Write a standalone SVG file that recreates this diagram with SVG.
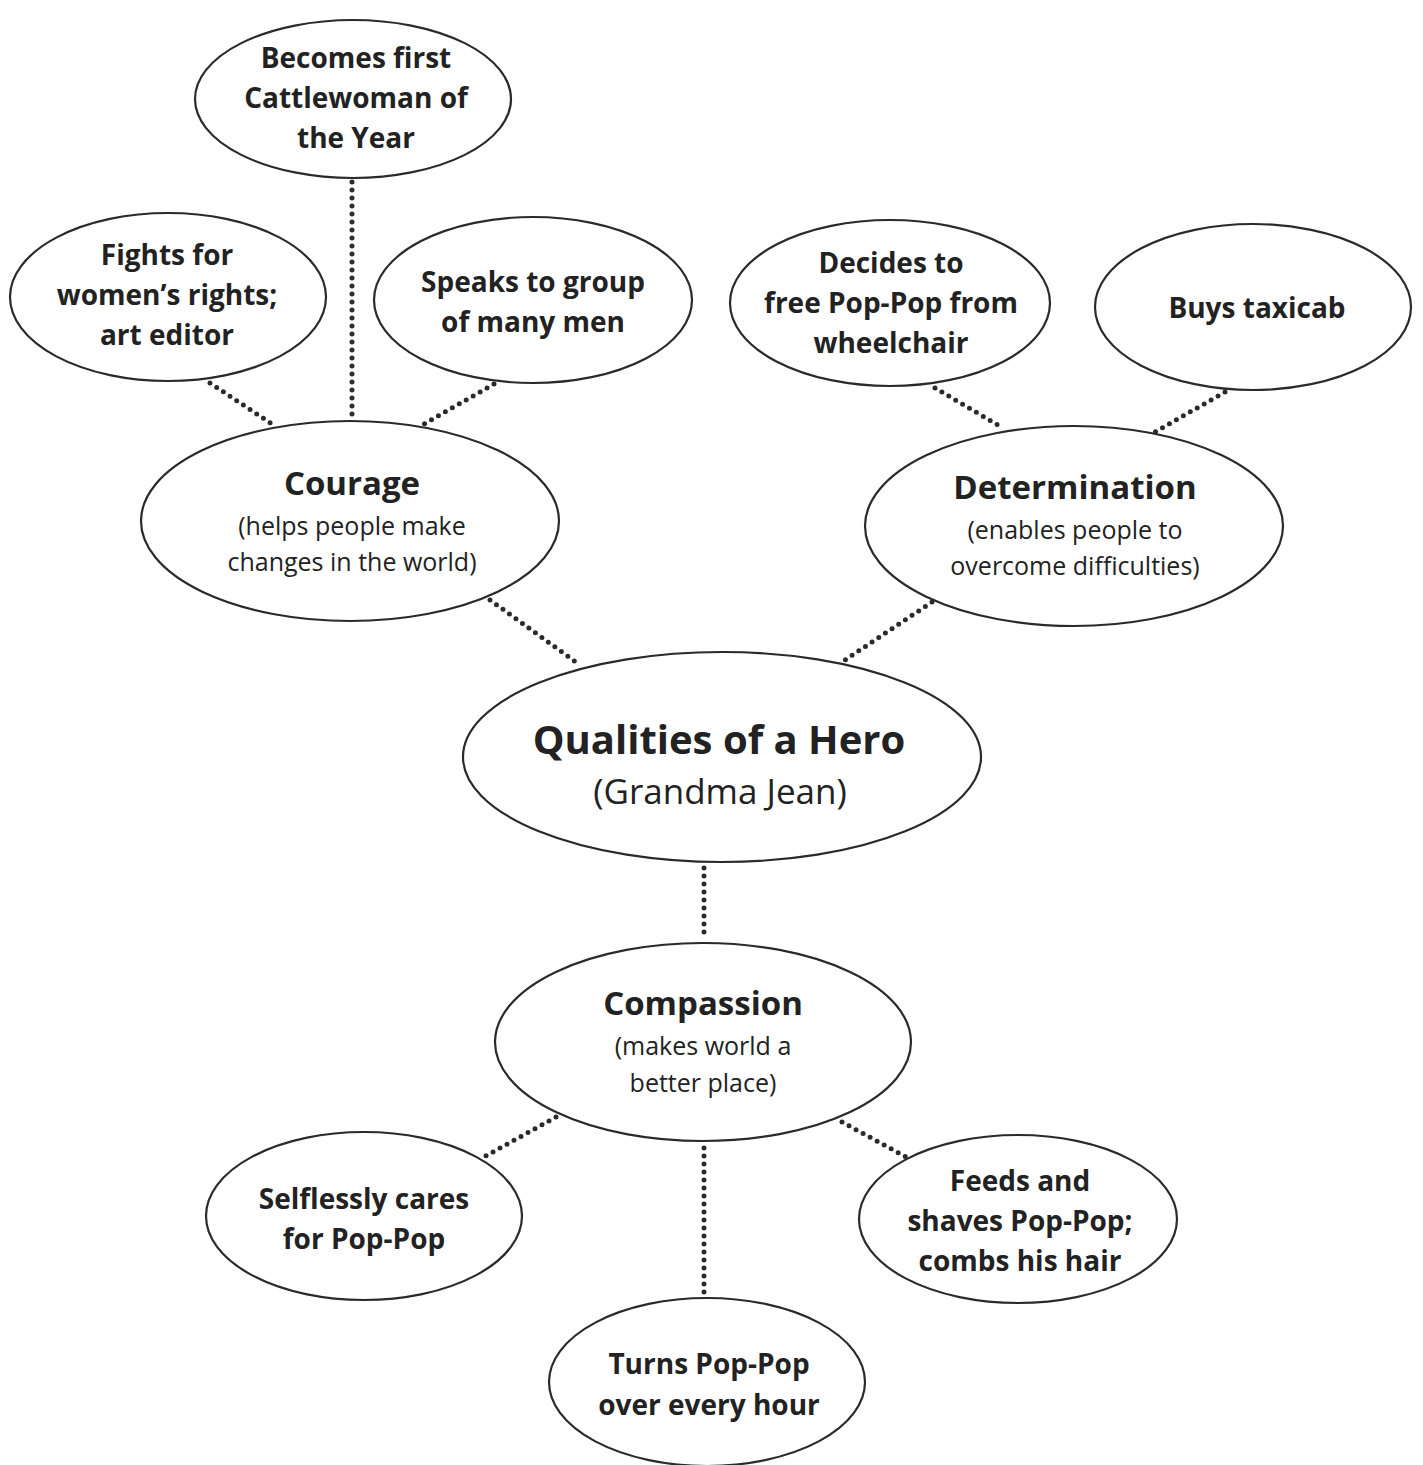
<svg xmlns="http://www.w3.org/2000/svg" width="1423" height="1465" viewBox="0 0 1423 1465">
<style>
.n ellipse{fill:#fff;stroke:#2a2a2a;stroke-width:2.2}
.c line{stroke:#2a2a2a;stroke-width:5;stroke-linecap:round;stroke-dasharray:0 8}
text{font-family:"Open Sans","Noto Sans","Liberation Sans",sans-serif;fill:#222;text-anchor:middle;dominant-baseline:central}
.b{font-weight:700;font-size:28px}
.h{font-weight:700;font-size:33px}
.s{font-size:25px}
.t{font-weight:700;font-size:40px}
.ts{font-size:35px}
</style>
<rect width="1423" height="1465" fill="#fff"/>
<g class="c" id="connectors">
<line x1="352" y1="182" x2="352" y2="416"/>
<line x1="210" y1="383" x2="272" y2="424"/>
<line x1="494" y1="384" x2="424" y2="424"/>
<line x1="490" y1="600" x2="580" y2="665"/>
<line x1="935" y1="388" x2="1003" y2="428"/>
<line x1="1225" y1="392" x2="1155" y2="432"/>
<line x1="932" y1="602" x2="842" y2="662"/>
<line x1="704" y1="868" x2="704" y2="940"/>
<line x1="556" y1="1117" x2="482" y2="1158"/>
<line x1="842" y1="1122" x2="908" y2="1158"/>
<line x1="704" y1="1148" x2="704" y2="1296"/>
</g>
<g class="n" id="n-becomes"><ellipse cx="353" cy="99" rx="158" ry="79"/>
<text class="b" x="356" y="57">Becomes first</text><text class="b" x="356" y="97">Cattlewoman of</text><text class="b" x="356" y="137">the Year</text></g>
<g class="n" id="n-fights"><ellipse cx="168" cy="297" rx="158" ry="84"/>
<text class="b" x="167" y="254">Fights for</text><text class="b" x="167" y="294">women’s rights;</text><text class="b" x="167" y="334">art editor</text></g>
<g class="n" id="n-speaks"><ellipse cx="533" cy="300" rx="159" ry="83"/>
<text class="b" x="533" y="281">Speaks to group</text><text class="b" x="533" y="321">of many men</text></g>
<g class="n" id="n-decides"><ellipse cx="890" cy="303" rx="160" ry="83"/>
<text class="b" x="891" y="262">Decides to</text><text class="b" x="891" y="302">free Pop-Pop from</text><text class="b" x="891" y="342">wheelchair</text></g>
<g class="n" id="n-buys"><ellipse cx="1253" cy="307" rx="158" ry="83"/>
<text class="b" x="1257" y="307">Buys taxicab</text></g>
<g class="n" id="n-courage"><ellipse cx="350" cy="521" rx="209" ry="100"/>
<text class="h" x="352" y="482">Courage</text><text class="s" x="352" y="525">(helps people make</text><text class="s" x="352" y="561">changes in the world)</text></g>
<g class="n" id="n-determination"><ellipse cx="1074" cy="526" rx="209" ry="100"/>
<text class="h" x="1075" y="486">Determination</text><text class="s" x="1075" y="529">(enables people to</text><text class="s" x="1075" y="565">overcome difficulties)</text></g>
<g class="n" id="n-qualities"><ellipse cx="722" cy="757" rx="259" ry="105"/>
<text class="t" x="719" y="738">Qualities of a Hero</text><text class="ts" x="720" y="790">(Grandma Jean)</text></g>
<g class="n" id="n-compassion"><ellipse cx="703" cy="1042" rx="208" ry="99"/>
<text class="h" x="703" y="1002">Compassion</text><text class="s" x="703" y="1045">(makes world a</text><text class="s" x="703" y="1082">better place)</text></g>
<g class="n" id="n-selflessly"><ellipse cx="364" cy="1216" rx="158" ry="84"/>
<text class="b" x="364" y="1198">Selflessly cares</text><text class="b" x="364" y="1238">for Pop-Pop</text></g>
<g class="n" id="n-feeds"><ellipse cx="1018" cy="1219" rx="159" ry="84"/>
<text class="b" x="1020" y="1180">Feeds and</text><text class="b" x="1020" y="1220">shaves Pop-Pop;</text><text class="b" x="1020" y="1260">combs his hair</text></g>
<g class="n" id="n-turns"><ellipse cx="707" cy="1382" rx="158" ry="84"/>
<text class="b" x="709" y="1363">Turns Pop-Pop</text><text class="b" x="709" y="1404">over every hour</text></g>
</svg>
